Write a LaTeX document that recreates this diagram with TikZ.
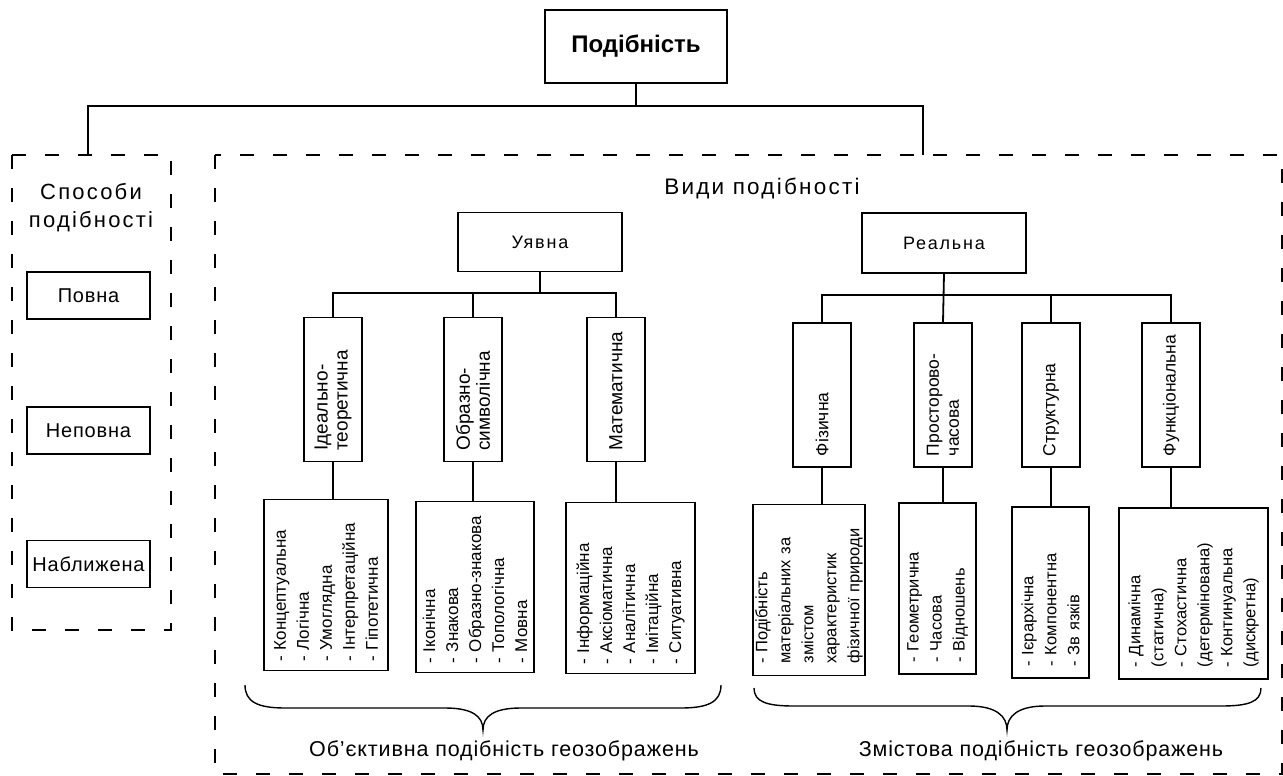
\documentclass[tikz,border=0pt]{standalone}
\usepackage{fontspec}
\setmainfont{Liberation Sans}
\newfontfamily\spacedfont[LetterSpace=10]{Liberation Sans}
\newfontfamily\semispaced[LetterSpace=4]{Liberation Sans}
\begin{document}
\begin{tikzpicture}[x=1pt,y=-1pt,
  ln/.style={line width=1.8pt},
  box/.style={draw, line width=1.8pt, inner sep=0pt, align=center},
  vbox/.style={draw, line width=1.8pt, rotate=90, align=left, inner ysep=0pt, inner xsep=11pt, text width=122pt, minimum height=58pt, font=\fontsize{17.5}{20}\selectfont},
  lvbox/.style={vbox, font=\fontsize{19}{20}\selectfont},
  lbox/.style={draw, line width=1.8pt, rotate=90, align=left, inner ysep=0pt, inner xsep=9pt, text width=153pt, font=\fontsize{17}{23}\selectfont},
  rlbox/.style={lbox, inner xsep=12pt, text width=147pt, font=\fontsize{16.5}{23}\selectfont},
  dbox/.style={line width=1.8pt, dash pattern=on 14pt off 19pt},
  brace/.style={line width=1.4pt},
]
\useasboundingbox (0,0) rectangle (1283,776);

% top
\node[box, minimum width=182pt, minimum height=73pt, font=\fontsize{24}{28}\selectfont\bfseries] (top) at (636,46.5) {Подібність};
\coordinate (j0) at (636,106);
\coordinate (lb) at (88,155);
\coordinate (rb) at (923,155);
\draw[ln] (top.south) -- (j0);
\draw[ln] (lb) -- (lb |- j0) -- (rb |- j0) -- (rb);

% dashed frames
\draw[dbox] (12,155) rectangle (171,630);
\draw[dbox] (215,155) rectangle (1282,774);

% left column
\node[font=\spacedfont\fontsize{22}{28}\selectfont, align=center] (sp) at (91,208) {Способи\\подібності};
\node[box, minimum width=123pt, minimum height=47pt, font=\semispaced\fontsize{20}{22}\selectfont] (p1) at (88.5,295.5) {Повна};
\node[box, minimum width=123pt, minimum height=47pt, font=\semispaced\fontsize{20}{22}\selectfont] (p2) at (88.5,430.5) {Неповна};
\node[box, minimum width=123pt, minimum height=47pt, font=\semispaced\fontsize{20}{22}\selectfont] (p3) at (88.5,564) {Наближена};

% types
\node[font=\spacedfont\fontsize{22.5}{26}\selectfont] (vyd) at (762,188) {Види подібності};
\node[box, minimum width=164pt, minimum height=59pt, font=\spacedfont\fontsize{18}{22}\selectfont] (u) at (540,242) {Уявна};
\node[box, minimum width=164pt, minimum height=60pt, font=\spacedfont\fontsize{18}{22}\selectfont] (r) at (944,243) {Реальна};

% imaginary branch
\node[lvbox] (id) at (333,389.5) {Ідеально-\\теоретична};
\node[lvbox] (obr) at (473,389.5) {Образно-\\символічна};
\node[lvbox] (mat) at (616,389.5) {Математична};
\coordinate (uj) at (540,293);
\draw[ln] (u.south) -- (uj);
\draw[ln] (id.east) -- (id.east |- uj) -- (mat.east |- uj) -- (mat.east);
\draw[ln] (obr.east) -- (obr.east |- uj);

\node[lbox, minimum height=124pt] (lb1) at (326,585) {- Концептуальна\\- Логічна\\- Умоглядна\\- Інтерпретаційна\\- Гіпотетична};
\node[lbox, minimum height=118pt] (lb2) at (475,587) {- Іконічна\\- Знакова\\- Образно-знакова\\- Топологічна\\- Мовна};
\node[lbox, minimum height=129pt] (lb3) at (630.5,588) {- Інформаційна\\- Аксіоматична\\- Аналітична\\- Імітаційна\\- Ситуативна};
\draw[ln] (id.west) -- (id.west |- lb1.east);
\draw[ln] (obr.west) -- (obr.west |- lb2.east);
\draw[ln] (mat.west) -- (mat.west |- lb3.east);

% real branch
\node[vbox] (fiz) at (822,395) {Фізична};
\node[vbox] (pro) at (943,395) {Просторово-\\часова};
\node[vbox] (str) at (1051,395) {Структурна};
\node[vbox] (fun) at (1171,395) {Функціональна};
\coordinate (rj) at (944,295);
\draw[ln] (r.south) -- (pro.east);
\draw[ln] (fiz.east) -- (fiz.east |- rj) -- (fun.east |- rj) -- (fun.east);
\draw[ln] (str.east) -- (str.east |- rj);

\node[rlbox, minimum height=112pt] (rb1) at (809,590) {- Подібність\\матеріальних за\\змістом\\характеристик\\фізичної природи};
\node[rlbox, minimum height=77pt] (rb2) at (937.5,588.5) {- Геометрична\\- Часова\\- Відношень};
\node[rlbox, minimum height=77pt] (rb3) at (1050.5,592.5) {- Ієрархічна\\- Компонентна\\- Зв язків};
\node[rlbox, minimum height=149pt] (rb4) at (1193.5,593.5) {- Динамічна\\(статична)\\- Стохастична\\(детермінована)\\- Континуальна\\(дискретна)};
\draw[ln] (fiz.west) -- (fiz.west |- rb1.east);
\draw[ln] (pro.west) -- (pro.west |- rb2.east);
\draw[ln] (str.west) -- (str.west |- rb3.east);
\draw[ln] (fun.west) -- (fun.west |- rb4.east);

% braces
\draw[brace] (245,685) .. controls (245,702) and (258,708) .. (285,708) -- (445,708) .. controls (472,708) and (483,716) .. (483,730) .. controls (483,716) and (494,708) .. (521,708) -- (681,708) .. controls (708,708) and (721,702) .. (721,685);
\draw[brace] (754,688) .. controls (754,702) and (767,706) .. (794,706) -- (969,706) .. controls (996,706) and (1007,716) .. (1007,730) .. controls (1007,716) and (1018,706) .. (1045,706) -- (1221,706) .. controls (1248,706) and (1261,702) .. (1261,688);

\node[font=\semispaced\fontsize{21.5}{26}\selectfont] (ob) at (504,751) {Об’єктивна подібність геозображень};
\node[font=\semispaced\fontsize{21.5}{26}\selectfont] (zm) at (1041,751) {Змістова подібність геозображень};
\end{tikzpicture}
\end{document}
